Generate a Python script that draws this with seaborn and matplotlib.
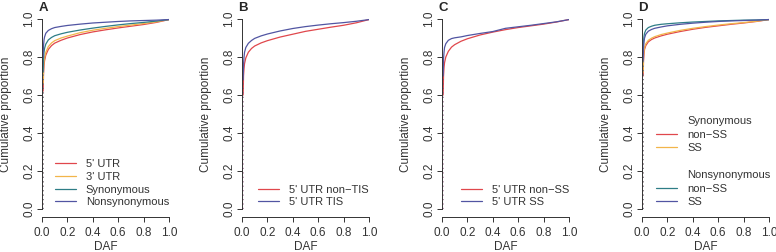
import numpy as np
import pandas as pd
import matplotlib
matplotlib.use("Agg")
import matplotlib.pyplot as plt
from matplotlib.lines import Line2D
import seaborn as sns

# DAF grid shared by all curves
daf = [0.008, 0.009, 0.012, 0.016, 0.02, 0.03, 0.05, 0.075, 0.1, 0.15,
       0.2, 0.3, 0.4, 0.5, 0.6, 0.7, 0.8, 0.9, 1.0]

# Panel A
a_utr5 = [0.0, 0.62, 0.71, 0.755, 0.78, 0.81, 0.84, 0.86, 0.873, 0.888,
          0.9, 0.918, 0.932, 0.943, 0.953, 0.962, 0.971, 0.982, 0.997]
a_utr3 = [0.0, 0.66, 0.74, 0.775, 0.795, 0.825, 0.855, 0.874, 0.886, 0.9,
          0.91, 0.928, 0.941, 0.951, 0.96, 0.968, 0.976, 0.985, 0.997]
a_syn = [0.0, 0.72, 0.79, 0.825, 0.845, 0.868, 0.89, 0.903, 0.912, 0.922,
         0.93, 0.942, 0.952, 0.961, 0.969, 0.976, 0.982, 0.989, 0.997]
a_nonsyn = [0.0, 0.80, 0.86, 0.89, 0.905, 0.925, 0.94, 0.949, 0.955, 0.961,
            0.966, 0.973, 0.979, 0.983, 0.987, 0.99, 0.992, 0.994, 0.997]

# Panel B
b_nontis = [0.0, 0.60, 0.70, 0.74, 0.765, 0.795, 0.825, 0.845, 0.858, 0.874,
            0.886, 0.905, 0.92, 0.935, 0.946, 0.957, 0.967, 0.98, 0.997]
b_tis = [0.0, 0.68, 0.76, 0.80, 0.825, 0.85, 0.872, 0.887, 0.898, 0.911,
         0.921, 0.937, 0.95, 0.96, 0.968, 0.975, 0.981, 0.988, 0.997]

# Panel C
c_nonss = [0.0, 0.60, 0.70, 0.745, 0.77, 0.80, 0.83, 0.852, 0.865, 0.883,
           0.896, 0.916, 0.931, 0.944, 0.955, 0.964, 0.973, 0.984, 0.997]
c_ss = [0.0, 0.70, 0.79, 0.825, 0.85, 0.87, 0.888, 0.897, 0.901, 0.906,
        0.913, 0.924, 0.934, 0.951, 0.959, 0.967, 0.976, 0.985, 0.997]

# Panel D
d_syn_nonss = [0.0, 0.70, 0.78, 0.815, 0.84, 0.86, 0.88, 0.892, 0.9, 0.911,
               0.92, 0.934, 0.946, 0.956, 0.964, 0.972, 0.979, 0.987, 0.997]
d_syn_ss = [0.0, 0.72, 0.80, 0.83, 0.85, 0.87, 0.888, 0.899, 0.907, 0.918,
            0.926, 0.94, 0.951, 0.96, 0.968, 0.975, 0.981, 0.988, 0.997]
d_nonsyn_nonss = [0.0, 0.82, 0.88, 0.91, 0.925, 0.942, 0.955, 0.962, 0.967, 0.972,
                  0.975, 0.98, 0.984, 0.987, 0.99, 0.992, 0.994, 0.995, 0.997]
d_nonsyn_ss = [0.0, 0.78, 0.85, 0.88, 0.9, 0.92, 0.936, 0.945, 0.951, 0.958,
               0.964, 0.972, 0.978, 0.983, 0.987, 0.99, 0.992, 0.994, 0.997]

RED = "#E0474C"
ORANGE = "#F2B54A"
TEAL = "#2E7D86"
BLUE = "#5155A2"

panels = [
    ("A", [("5' UTR", a_utr5, RED), ("3' UTR", a_utr3, ORANGE),
           ("Synonymous", a_syn, TEAL), ("Nonsynonymous", a_nonsyn, BLUE)]),
    ("B", [("5' UTR non\u2212TIS", b_nontis, RED), ("5' UTR TIS", b_tis, BLUE)]),
    ("C", [("5' UTR non\u2212SS", c_nonss, RED), ("5' UTR SS", c_ss, BLUE)]),
    ("D", [("Syn non-SS", d_syn_nonss, RED), ("Syn SS", d_syn_ss, ORANGE),
           ("Nonsyn non-SS", d_nonsyn_nonss, TEAL), ("Nonsyn SS", d_nonsyn_ss, BLUE)]),
]

sns.set_theme(style="ticks")
plt.rcParams["font.family"] = ["Liberation Sans", "DejaVu Sans"]
AXCOL = "#333333"

W, H = 776, 252
fig = plt.figure(figsize=(W / 100, H / 100), dpi=100)

x0s = [42, 242, 442, 642]
axw = 127
ax_top, ax_bot = 11.4, 216.6
legend_x = [0.10, 0.126, 0.15, 0.11]

for i, (letter, series) in enumerate(panels):
    ax = fig.add_axes([x0s[i] / W, 1 - ax_bot / H, axw / W, (ax_bot - ax_top) / H])
    for name, vals, col in series:
        df = pd.DataFrame({"DAF": daf, "cum": vals})
        # low-frequency part looks dotted in the original
        sns.lineplot(data=df.iloc[:2], x="DAF", y="cum", ax=ax, color=col,
                     linestyle=(0, (1, 3)), linewidth=0.8, alpha=0.6,
                     estimator=None, legend=False, sort=False)
        sns.lineplot(data=df.iloc[1:], x="DAF", y="cum", ax=ax, color=col,
                     linewidth=0.9, estimator=None, legend=False, sort=False)

    ax.set_xlim(0, 1)
    ax.set_ylim(-0.04, 1.04)
    ax.set_xticks(np.arange(0, 1.01, 0.2))
    ax.set_yticks(np.arange(0, 1.01, 0.2))
    ax.set_xticklabels([f"{v:.1f}" for v in np.arange(0, 1.01, 0.2)])
    ax.set_yticklabels([f"{v:.1f}" for v in np.arange(0, 1.01, 0.2)],
                       rotation=90, va="center")
    for s in ["top", "right"]:
        ax.spines[s].set_visible(False)
    ax.spines["left"].set_bounds(0, 1)
    ax.spines["bottom"].set_bounds(0, 1)
    for s in ["left", "bottom"]:
        ax.spines[s].set_color(AXCOL)
        ax.spines[s].set_linewidth(0.7)
    ax.tick_params(axis="both", length=3.5, width=0.7, color=AXCOL,
                   labelsize=8.5, labelcolor="#333333")
    ax.tick_params(axis="x", pad=4)
    ax.tick_params(axis="y", pad=1.5)
    ax.set_xlabel("DAF", fontsize=8.5, color="#333333")
    ax.set_ylabel("Cumulative proportion", fontsize=8.5, color="#333333")
    ax.xaxis.set_label_coords(0.5, -0.118)
    ax.yaxis.set_label_coords(-0.24, 0.5)
    ax.text(-0.03, 1.046, letter, transform=ax.transAxes, fontsize=9.5,
            fontweight="bold", ha="left", va="top")

    if letter == "D":
        blank = Line2D([], [], color="none")
        handles = [blank, Line2D([], [], color=RED, lw=0.9),
                   Line2D([], [], color=ORANGE, lw=0.9), blank,
                   blank, Line2D([], [], color=TEAL, lw=0.9),
                   Line2D([], [], color=BLUE, lw=0.9)]
        labels = ["Synonymous", "non\u2212SS", "SS", " ",
                  "Nonsynonymous", "non\u2212SS", "SS"]
        spacing = 0.32
    else:
        handles = [Line2D([], [], color=c, lw=0.9) for _, _, c in series]
        labels = [n for n, _, _ in series]
        spacing = 0.24
    ax.legend(handles, labels, loc="lower left",
              bbox_to_anchor=(legend_x[i], 0.045), frameon=False,
              fontsize=8, handlelength=1.9, handletextpad=0.9,
              labelspacing=spacing, borderpad=0, borderaxespad=0,
              labelcolor="#333333")

fig.savefig("out.png", dpi=100)
